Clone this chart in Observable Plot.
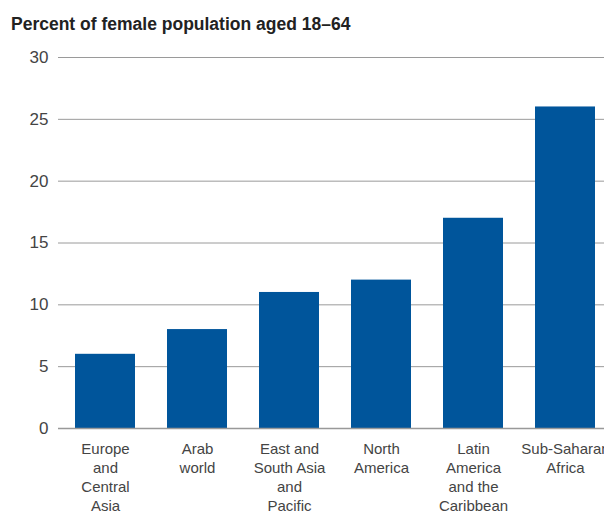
<!DOCTYPE html>
<html>
<head>
<meta charset="utf-8">
<script src="https://cdn.jsdelivr.net/npm/d3@7"></script>
<script src="https://cdn.jsdelivr.net/npm/@observablehq/plot@0.6"></script>
<style>
  html, body { margin: 0; padding: 0; background: #fff; overflow: hidden; }
  #title { font-family: "Liberation Sans", Arial, sans-serif; font-weight: bold; font-size: 17.5px; color: #222; height: 40px; box-sizing: border-box; padding: 14px 0 0 11px; line-height: 20px; }
  svg { overflow: hidden; }
</style>
</head>
<body>
<div id="title">Percent of female population aged 18–64</div>
<div id="chart"></div>
<script>
const categories = ["Europe and Central Asia", "Arab world", "East and South Asia and Pacific", "North America", "Latin America and the Caribbean", "Sub-Saharan Africa"];
const categoryLabels = ["Europe\nand\nCentral\nAsia", "Arab\nworld", "East and\nSouth Asia\nand\nPacific", "North\nAmerica", "Latin\nAmerica\nand the\nCaribbean", "Sub-Saharan\nAfrica"];
const values = [6, 8, 11, 12, 17, 26];
const yTicks = [0, 5, 10, 15, 20, 25, 30];

const data = categories.map((c, i) => ({category: c, value: values[i]}));
const labelOf = new Map(categories.map((c, i) => [c, categoryLabels[i]]));

const chart = Plot.plot({
  width: 604,
  height: 471,
  marginTop: 17,
  marginLeft: 58,
  marginRight: 0,
  marginBottom: 83,
  style: {fontFamily: "'Liberation Sans', Arial, sans-serif", background: "#fff", overflow: "hidden"},
  x: {domain: categories, range: [58, 612], paddingInner: 0.35, paddingOuter: 0.175, axis: null},
  y: {domain: [0, 30], axis: null},
  marks: [
    Plot.ruleY(yTicks.filter(d => d > 0), {stroke: "#9a9a9a", strokeWidth: 1}),
    Plot.barY(data, {x: "category", y: "value", fill: "#00559b"}),
    Plot.ruleY([0], {stroke: "#999", strokeWidth: 1.5}),
    Plot.axisY(yTicks, {label: null, tickSize: 0, tickPadding: 10, fontSize: 17, fill: "#444", tickFormat: d => d}),
    Plot.axisX(categories, {label: null, tickSize: 0, tickPadding: 12, fontSize: 15, fill: "#444", lineHeight: 1.27, tickFormat: d => labelOf.get(d)})
  ]
});
document.getElementById("chart").appendChild(chart);
</script>
</body>
</html>
